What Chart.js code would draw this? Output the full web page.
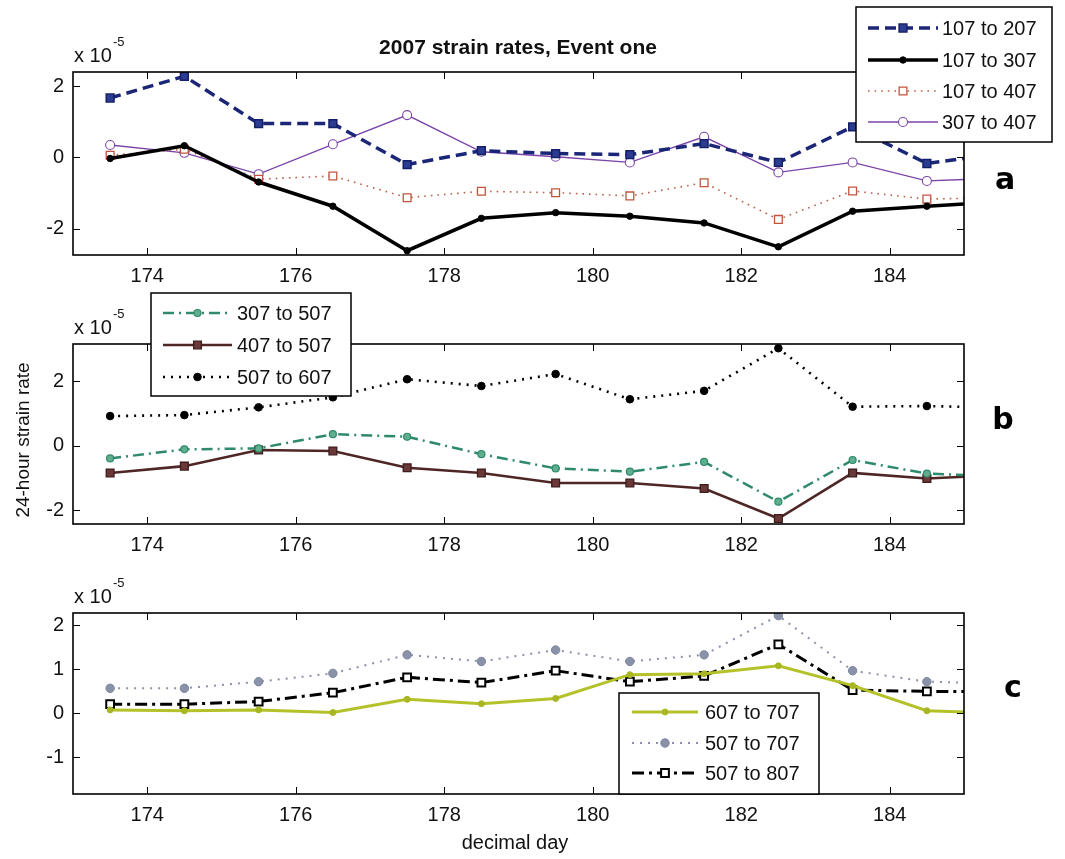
<!DOCTYPE html>
<html>
<head>
<meta charset="utf-8">
<title>2007 strain rates, Event one</title>
<script src="https://cdn.jsdelivr.net/npm/chart.js@4.4.1/dist/chart.umd.min.js"></script>
<style>
  html, body { margin: 0; padding: 0; background: #fff; }
  #wrap { position: relative; width: 1065px; height: 859px; overflow: hidden; background: #fff; }
  #wrap canvas { position: absolute; left: 0; top: 0; }
</style>
</head>
<body>
<div id="wrap">
  <canvas id="panelA" width="1065" height="859"></canvas>
  <canvas id="panelB" width="1065" height="859"></canvas>
  <canvas id="panelC" width="1065" height="859"></canvas>
</div>
<script>
// Decimal day of each 24-hour strain-rate estimate
const days = [173.5, 174.5, 175.5, 176.5, 177.5, 178.5, 179.5, 180.5, 181.5, 182.5, 183.5, 184.5, 185.5];
const dayTicks = [174, 176, 178, 180, 182, 184];

// Strain rates, in units of 1e-5 per day
// Panel a
const rate107to207 = [1.67, 2.28, 0.95, 0.95, -0.20, 0.19, 0.11, 0.08, 0.39, -0.14, 0.86, -0.17, 0.11];
const rate107to307 = [-0.03, 0.33, -0.69, -1.37, -2.62, -1.71, -1.55, -1.65, -1.84, -2.51, -1.51, -1.37, -1.25];
const rate107to407 = [0.06, 0.23, -0.61, -0.52, -1.13, -0.95, -0.99, -1.08, -0.71, -1.74, -0.94, -1.17, -1.13];
const rate307to407 = [0.35, 0.13, -0.47, 0.37, 1.19, 0.16, 0.02, -0.14, 0.58, -0.42, -0.14, -0.66, -0.58];
const ticksA = [-2, 0, 2];

// Panel b
const rate307to507 = [-0.39, -0.11, -0.08, 0.36, 0.28, -0.26, -0.70, -0.80, -0.50, -1.73, -0.44, -0.86, -0.95];
const rate407to507 = [-0.84, -0.63, -0.13, -0.16, -0.68, -0.84, -1.15, -1.15, -1.32, -2.25, -0.84, -1.01, -0.91];
const rate507to607 = [0.92, 0.95, 1.19, 1.50, 2.06, 1.85, 2.22, 1.44, 1.70, 3.02, 1.21, 1.23, 1.18];
const ticksB = [-2, 0, 2];

// Panel c
const rate607to707 = [0.08, 0.06, 0.08, 0.02, 0.32, 0.22, 0.34, 0.88, 0.90, 1.08, 0.63, 0.06, 0.00];
const rate507to707 = [0.57, 0.57, 0.72, 0.91, 1.33, 1.18, 1.44, 1.18, 1.33, 2.22, 0.97, 0.72, 0.68];
const rate507to807 = [0.21, 0.21, 0.27, 0.47, 0.82, 0.70, 0.97, 0.72, 0.85, 1.57, 0.53, 0.50, 0.50];
const ticksC = [-1, 0, 1, 2];

const FONT = "'Liberation Sans', Arial, Helvetica, sans-serif";
Chart.defaults.font.family = FONT;
Chart.defaults.font.size = 20;
Chart.defaults.color = '#111';

const toPoints = vals => vals.map((v, i) => ({ x: days[i], y: v }));

function series(label, vals, st) {
  return {
    label,
    data: toPoints(vals),
    borderColor: st.color,
    borderWidth: st.width,
    borderDash: st.dash || [],
    pointStyle: st.marker,
    pointRadius: st.r,
    pointBackgroundColor: st.fill,
    pointBorderColor: st.edge || st.color,
    pointBorderWidth: st.edgeWidth || 1,
    tension: 0,
    fill: false
  };
}

// Draws a marker the same way for the legend samples
function drawMarker(ctx, ds, x, y) {
  const r = ds.pointRadius;
  ctx.save();
  ctx.setLineDash([]);
  ctx.fillStyle = ds.pointBackgroundColor;
  ctx.strokeStyle = ds.pointBorderColor;
  ctx.lineWidth = ds.pointBorderWidth;
  ctx.beginPath();
  if (ds.pointStyle === 'rect') {
    const s = Math.SQRT1_2 * r;
    ctx.rect(x - s, y - s, 2 * s, 2 * s);
  } else {
    ctx.arc(x, y, r, 0, Math.PI * 2);
  }
  ctx.fill();
  ctx.stroke();
  ctx.restore();
}

// Frame, inward ticks, exponent label, panel letter, boxed legend and figure texts
const panelDecor = {
  id: 'panelDecor',
  afterDraw(chart, args, o) {
    const { ctx, chartArea: a, scales } = chart;
    ctx.save();
    const tl = 7;
    ctx.strokeStyle = '#000';
    ctx.lineWidth = 1;
    ctx.setLineDash([]);
    ctx.beginPath();
    scales.x.ticks.forEach(t => {
      const px = Math.round(scales.x.getPixelForValue(t.value)) + 0.5;
      ctx.moveTo(px, a.top); ctx.lineTo(px, a.top + tl);
      ctx.moveTo(px, a.bottom); ctx.lineTo(px, a.bottom - tl);
    });
    scales.y.ticks.forEach(t => {
      const py = Math.round(scales.y.getPixelForValue(t.value)) + 0.5;
      ctx.moveTo(a.left, py); ctx.lineTo(a.left + tl, py);
      ctx.moveTo(a.right, py); ctx.lineTo(a.right - tl, py);
    });
    ctx.stroke();
    ctx.lineWidth = 1.6;
    ctx.strokeRect(a.left, a.top, a.right - a.left, a.bottom - a.top);

    // axis multiplier
    ctx.fillStyle = '#111';
    ctx.textAlign = 'left';
    ctx.textBaseline = 'alphabetic';
    ctx.font = '20px ' + FONT;
    ctx.fillText('x 10', a.left + 1, a.top - 10);
    ctx.font = '13px ' + FONT;
    ctx.fillText('-5', a.left + 40, a.top - 26);

    // panel letter
    ctx.font = 'bold 30px "DejaVu Sans", ' + FONT;
    ctx.fillStyle = '#000';
    ctx.textAlign = 'center';
    ctx.textBaseline = 'middle';
    ctx.fillText(o.letter, o.letterX, o.letterY);

    // boxed legend
    const L = o.legend;
    ctx.fillStyle = '#fff';
    ctx.fillRect(L.x, L.y, L.w, L.h);
    ctx.lineWidth = 1.5;
    ctx.strokeStyle = '#000';
    ctx.strokeRect(L.x, L.y, L.w, L.h);
    chart.data.datasets.forEach((ds, i) => {
      const yy = L.rows[i];
      ctx.save();
      ctx.beginPath();
      ctx.rect(L.x, L.y, L.w, L.h);
      ctx.clip();
      ctx.strokeStyle = ds.borderColor;
      ctx.lineWidth = ds.borderWidth;
      ctx.setLineDash(ds.borderDash);
      ctx.beginPath();
      ctx.moveTo(L.s0, yy);
      ctx.lineTo(L.s1, yy);
      ctx.stroke();
      ctx.restore();
      drawMarker(ctx, ds, (L.s0 + L.s1) / 2, yy);
      ctx.fillStyle = '#111';
      ctx.font = '20px ' + FONT;
      ctx.textAlign = 'left';
      ctx.textBaseline = 'middle';
      ctx.fillText(ds.label, L.tx, yy + 1);
    });

    // figure-level texts
    (o.texts || []).forEach(t => {
      ctx.save();
      ctx.translate(t.x, t.y);
      if (t.rot) ctx.rotate(t.rot);
      ctx.font = t.font;
      ctx.fillStyle = '#111';
      ctx.textAlign = 'center';
      ctx.textBaseline = 'middle';
      ctx.fillText(t.text, 0, 0);
      ctx.restore();
    });
    ctx.restore();
  }
};

const LEFT = 73, RIGHT = 964, XAXIS_H = 40, YAXIS_W = 60;

function makePanel(id, datasets, yMin, yMax, yTicks, top, bottom, decor) {
  return new Chart(document.getElementById(id), {
    type: 'line',
    data: { datasets },
    options: {
      responsive: false,
      animation: false,
      events: [],
      layout: { padding: { left: LEFT - YAXIS_W, right: 1065 - RIGHT, top: top, bottom: 859 - bottom - XAXIS_H } },
      plugins: { legend: { display: false }, title: { display: false }, tooltip: { enabled: false }, panelDecor: decor },
      scales: {
        x: {
          type: 'linear', min: 173, max: 185,
          afterBuildTicks: s => { s.ticks = dayTicks.map(v => ({ value: v })); },
          afterFit: s => { s.height = XAXIS_H; },
          grid: { display: false, drawTicks: false },
          border: { display: false },
          ticks: { padding: 9, font: { size: 20 }, color: '#111', maxRotation: 0 }
        },
        y: {
          type: 'linear', min: yMin, max: yMax,
          afterBuildTicks: s => { s.ticks = yTicks.map(v => ({ value: v })); },
          afterFit: s => { s.width = YAXIS_W; },
          grid: { display: false, drawTicks: false },
          border: { display: false },
          ticks: { padding: 9, font: { size: 20 }, color: '#111' }
        }
      }
    },
    plugins: [panelDecor]
  });
}

makePanel('panelA', [
  series('107 to 207', rate107to207, { color: '#1b2677', width: 3.5, dash: [11, 6], marker: 'rect', r: 5.5, fill: '#2c3c90', edge: '#15206a', edgeWidth: 1.5 }),
  series('107 to 307', rate107to307, { color: '#000', width: 3.5, marker: 'circle', r: 3.2, fill: '#000' }),
  series('107 to 407', rate107to407, { color: '#b86048', width: 1.6, dash: [1.6, 5], marker: 'rect', r: 5.5, fill: '#fff', edge: '#c0553d', edgeWidth: 1.3 }),
  series('307 to 407', rate307to407, { color: '#7b44a8', width: 1.3, marker: 'circle', r: 4.5, fill: '#fff', edge: '#7b44a8', edgeWidth: 1.1 })
], -2.74, 2.40, ticksA, 72, 255, {
  letter: 'a', letterX: 1005, letterY: 181,
  legend: { x: 856, y: 7, w: 196, h: 135, rows: [28, 60, 91, 122], s0: 868, s1: 938, tx: 942 },
  texts: [{ text: '2007 strain rates, Event one', x: 518, y: 48, font: 'bold 21px ' + FONT }]
});

makePanel('panelB', [
  series('307 to 507', rate307to507, { color: '#2e8a6a', width: 2.5, dash: [11, 5, 2, 5], marker: 'circle', r: 3.5, fill: '#5fae8e', edge: '#2e8a6a', edgeWidth: 1.2 }),
  series('407 to 507', rate407to507, { color: '#4e2626', width: 2.6, marker: 'rect', r: 5.5, fill: '#6a3838', edge: '#3e1c1c', edgeWidth: 1.3 }),
  series('507 to 607', rate507to607, { color: '#000', width: 2.6, dash: [2, 6], marker: 'circle', r: 3.8, fill: '#000' })
], -2.42, 3.15, ticksB, 344, 524, {
  letter: 'b', letterX: 1003, letterY: 421,
  legend: { x: 151, y: 293, w: 200, h: 103, rows: [313, 345, 377], s0: 163, s1: 232, tx: 237 },
  texts: [{ text: '24-hour strain rate', x: 24, y: 440, rot: -Math.PI / 2, font: '19px ' + FONT }]
});

makePanel('panelC', [
  series('607 to 707', rate607to707, { color: '#b4c22a', width: 3, marker: 'circle', r: 3, fill: '#a8b622', edge: '#a8b622' }),
  series('507 to 707', rate507to707, { color: '#8a92aa', width: 2, dash: [2, 6], marker: 'circle', r: 4.2, fill: '#8a92aa', edge: '#7c849c' }),
  series('507 to 807', rate507to807, { color: '#000', width: 3, dash: [12, 5, 3, 5], marker: 'rect', r: 5.5, fill: '#fff', edge: '#000', edgeWidth: 2 })
], -1.83, 2.28, ticksC, 613, 794, {
  letter: 'c', letterX: 1013, letterY: 689,
  legend: { x: 619, y: 693, w: 200, h: 101, rows: [712, 743, 773], s0: 632, s1: 698, tx: 705 },
  texts: [{ text: 'decimal day', x: 515, y: 843, font: '20px ' + FONT }]
});
</script>
</body>
</html>
